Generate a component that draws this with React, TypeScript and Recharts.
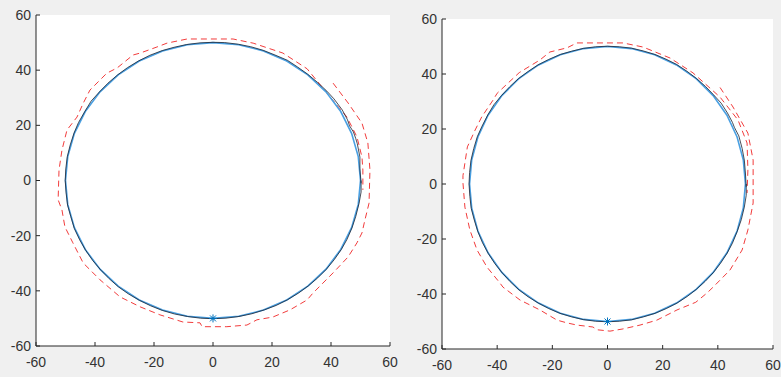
import React from 'react';
import { ScatterChart, Scatter, XAxis, YAxis, CartesianGrid } from 'recharts';

type P = [number, number];

const axisTicks = [-60, -40, -20, 0, 20, 40, 60];

// Reference circle (radius 50), read every 10 degrees
const refCircle: P[] = [
  [50, 0], [49.24, 8.68], [46.98, 17.1], [43.3, 25], [38.3, 32.14], [32.14, 38.3],
  [25, 43.3], [17.1, 46.98], [8.68, 49.24], [0, 50], [-8.68, 49.24], [-17.1, 46.98],
  [-25, 43.3], [-32.14, 38.3], [-38.3, 32.14], [-43.3, 25], [-46.98, 17.1], [-49.24, 8.68],
  [-50, 0], [-49.24, -8.68], [-46.98, -17.1], [-43.3, -25], [-38.3, -32.14], [-32.14, -38.3],
  [-25, -43.3], [-17.1, -46.98], [-8.68, -49.24], [0, -50], [8.68, -49.24], [17.1, -46.98],
  [25, -43.3], [32.14, -38.3], [38.3, -32.14], [43.3, -25], [46.98, -17.1], [49.24, -8.68],
  [50, 0],
];

// Actual (black) trajectory, left panel
const actualLeft: P[] = [
  [50.2, -1], [49.8, 4.2], [49.8, 8.5], [48.9, 13.4], [48.4, 15.2], [47.6, 17.6], [46.3, 19.8],
  [45.6, 22], [43.8, 25.6], [41.0, 29.6], [38.6, 32.4], [35.4, 35.6], [32.0, 38.6], [28.6, 41.2],
  [25.2, 43.6], [21.0, 45.5], [17.0, 47.2], [12.8, 48.5], [8.6, 49.4], [4.0, 50.0], [0, 50.1],
  [-4.4, 49.9], [-8.9, 49.3], [-13.2, 48.3], [-17.2, 47.1], [-21.4, 45.4], [-25.3, 43.3],
  [-29.0, 40.9], [-32.3, 38.3], [-35.6, 35.3], [-38.5, 32.1], [-41.3, 28.8], [-43.4, 25.1],
  [-45.6, 21.0], [-47.1, 17.2], [-48.4, 12.9], [-49.4, 8.6], [-49.9, 4.2], [-50.1, 0],
  [-49.8, -4.5], [-49.3, -8.9], [-48.2, -13.1], [-47.0, -17.4], [-45.2, -21.5], [-43.1, -25.4],
  [-40.7, -29.1], [-38.0, -32.5], [-35.2, -35.6], [-32.0, -38.6], [-28.7, -41.1], [-25.0, -43.4],
  [-21.2, -45.4], [-17.2, -47.1], [-13.0, -48.4], [-8.7, -49.3], [-4.3, -49.9], [0, -50.1],
  [4.4, -49.9], [8.8, -49.3], [13.2, -48.3], [17.4, -46.9], [21.4, -45.3], [25.3, -43.2],
  [29.0, -40.8], [32.3, -38.2], [35.5, -35.3], [38.4, -32.2], [41.1, -28.7], [43.5, -25.0],
  [45.4, -21.4], [47.1, -17.2], [48.4, -13.0], [49.5, -8.3], [50.2, -4.2], [50.2, 0],
];

// Actual (black) trajectory, right panel
const actualRight: P[] = [
  [50.3, -1], [50.0, 4.0], [49.6, 8.7], [48.8, 13.0], [47.6, 17.5], [46.0, 20.6], [45.3, 22.4],
  [43.5, 25.8], [41.2, 29.4], [38.4, 32.5], [35.5, 35.5], [32.2, 38.4], [28.8, 41.0],
  [25.0, 43.5], [21.2, 45.4], [17.2, 47.1], [12.9, 48.4], [8.7, 49.4], [4.3, 49.9], [0, 50.1],
  [-4.3, 49.9], [-8.8, 49.3], [-13.0, 48.3], [-17.1, 47.1], [-21.3, 45.3], [-25.2, 43.3],
  [-28.8, 40.9], [-32.3, 38.3], [-35.5, 35.3], [-38.4, 32.2], [-41.2, 28.8], [-43.4, 25.1],
  [-45.5, 21.0], [-47.2, 17.2], [-48.5, 12.9], [-49.5, 8.6], [-50.0, 4.2], [-50.2, 0],
  [-49.9, -4.5], [-49.4, -8.9], [-48.3, -13.1], [-47.0, -17.3], [-45.3, -21.4], [-43.2, -25.3],
  [-40.8, -29.0], [-38.1, -32.4], [-35.3, -35.5], [-32.1, -38.5], [-28.8, -41.0], [-25.1, -43.3],
  [-21.3, -45.3], [-17.3, -47.0], [-13.1, -48.3], [-8.8, -49.3], [-4.4, -49.9], [0, -50.1],
  [4.3, -49.9], [8.7, -49.4], [13.1, -48.3], [17.3, -47.0], [21.3, -45.3], [25.2, -43.3],
  [28.9, -40.9], [32.2, -38.3], [35.4, -35.4], [38.3, -32.3], [41.0, -28.8], [43.4, -25.1],
  [45.3, -21.5], [47.0, -17.3], [48.5, -13.0], [49.6, -8.4], [50.3, -4.1], [50.3, 0],
];

// Offset (red dashed) path, left panel
const offsetLeft: P[] = [
  [40.7, 35.3], [45.8, 28.1], [50.5, 20.8], [52.5, 13.6], [53.2, 3.8], [53.0, -4], [52.9, -8.2],
  [51.5, -14.3], [50.5, -19], [48.8, -22.6], [45.8, -27.7], [40.7, -33.5], [33.9, -40.8],
  [31.9, -43.3], [26.1, -46.9], [20.3, -49.5], [14.9, -50.5], [11.5, -52.4], [4.7, -53],
  [-3.7, -53], [-4.4, -51.6], [-10.2, -51.3], [-18, -48.7], [-24.7, -45.8], [-31.5, -42.2],
  [-38.3, -36], [-44, -29.9], [-47.5, -22.6], [-50.2, -16.8], [-51.2, -10.7], [-52.5, -7],
  [-52.2, 3.8], [-51.2, 11], [-49.5, 18.3], [-46.1, 23], [-44, 28], [-41.7, 32.8], [-36, 38.9],
  [-32.5, 40.8], [-27.1, 45.5], [-24.7, 46.2], [-19, 48.4], [-15.6, 49.8], [-8.8, 51.3],
  [6.8, 51.3], [13.6, 49.8], [23.7, 46.2], [31.9, 40.5], [39.7, 30.3], [45.4, 23], [48.8, 15.8],
  [50.5, 8.5], [50.8, 3.8], [50.8, -3.4],
];

// Offset (red dashed) path, right panel
const offsetRight: P[] = [
  [40.8, 35.1], [45.5, 28], [50.9, 18.5], [52.8, 8.7], [52.8, -6.9], [50.9, -16.7], [48.8, -24],
  [44.4, -31.3], [38.3, -37.5], [36, -39.7], [32, -43], [25.2, -45.8], [17.9, -49.5],
  [11.8, -51.3], [5.6, -52.7], [0.9, -53.5], [-3.8, -53], [-5.3, -52], [-11.1, -51.3],
  [-14.7, -50.5], [-18.3, -49.5], [-24.5, -45.8], [-31.7, -42.2], [-37.9, -37.5], [-39, -36],
  [-43.7, -30.2], [-47.3, -24], [-49.9, -16.7], [-51.7, -8.4], [-52.4, 0.4], [-52.4, 3],
  [-51.7, 7.6], [-50.8, 13.5], [-48, 19.6], [-45.6, 24.4], [-41.5, 30.5], [-40, 33],
  [-32, 40.5], [-24.5, 45.1], [-20.9, 48], [-14.7, 49.5], [-11.1, 51.3], [5.6, 51.3],
  [12.9, 49.8], [22.7, 45.8], [31, 40.4], [40.8, 31.6], [47.3, 23.3], [50.6, 14.9],
  [50.9, 5.1], [50.6, -3.3],
];

// Start point marker
const startPoint: P[] = [[0, -50]];

const toPts = (a: P[]) => a.map(([x, y]) => ({ x, y }));

const NoShape = () => <g />;

const StarShape = (props: any) => {
  const { cx, cy } = props;
  if (cx == null || cy == null) return <g />;
  const r = 4;
  const d = 3;
  return (
    <g stroke="#0072BD" strokeWidth={1} fill="none">
      <line x1={cx - r} y1={cy} x2={cx + r} y2={cy} />
      <line x1={cx} y1={cy - r} x2={cx} y2={cy + r} />
      <line x1={cx - d} y1={cy - d} x2={cx + d} y2={cy + d} />
      <line x1={cx - d} y1={cy + d} x2={cx + d} y2={cy - d} />
    </g>
  );
};

const tickStyle = { fill: '#333333', fontSize: 14, fontFamily: '"Liberation Sans", Arial, Helvetica, sans-serif' };

type PanelProps = {
  left: number;
  width: number;
  margin: { top: number; right: number; bottom: number; left: number };
  actual: P[];
  offset: P[];
};

function Panel({ left, width, margin, actual, offset }: PanelProps) {
  return (
    <div style={{ position: 'absolute', left, top: 0, width, height: 377 }}>
      <ScatterChart width={width} height={377} margin={margin}>
        <CartesianGrid fill="#ffffff" stroke="none" />
        <XAxis
          type="number"
          dataKey="x"
          domain={[-60, 60]}
          ticks={axisTicks}
          interval={0}
          allowDataOverflow
          height={25}
          tickSize={-4}
          tickMargin={15}
          tick={tickStyle}
          axisLine={{ stroke: '#262626', strokeWidth: 1 }}
          tickLine={{ stroke: '#262626', strokeWidth: 1 }}
        />
        <YAxis
          type="number"
          dataKey="y"
          domain={[-60, 60]}
          ticks={axisTicks}
          interval={0}
          allowDataOverflow
          width={30}
          tickSize={-4}
          tickMargin={9}
          tick={tickStyle}
          axisLine={{ stroke: '#262626', strokeWidth: 1 }}
          tickLine={{ stroke: '#262626', strokeWidth: 1 }}
        />
        <Scatter
          data={toPts(offset)}
          line={{ stroke: '#f23c3c', strokeWidth: 1, strokeDasharray: '6 4' }}
          lineType="joint"
          shape={NoShape}
          isAnimationActive={false}
        />
        <Scatter
          data={toPts(refCircle)}
          line={{ stroke: '#4aa0e2', strokeWidth: 1.6 }}
          lineType="joint"
          shape={NoShape}
          isAnimationActive={false}
        />
        <Scatter
          data={toPts(actual)}
          line={{ stroke: '#1a2230', strokeWidth: 0.8 }}
          lineType="joint"
          shape={NoShape}
          isAnimationActive={false}
        />
        <Scatter data={toPts(startPoint)} shape={StarShape} isAnimationActive={false} />
      </ScatterChart>
    </div>
  );
}

export default function App() {
  return (
    <div style={{ position: 'fixed', left: 0, top: 0, width: 781, height: 377, background: '#f0f0f0', overflow: 'hidden' }}>
      <Panel left={0} width={400} margin={{ top: 15, right: 10, bottom: 6, left: 6 }} actual={actualLeft} offset={offsetLeft} />
      <Panel left={390} width={391} margin={{ top: 19, right: 8, bottom: 3, left: 22 }} actual={actualRight} offset={offsetRight} />
    </div>
  );
}
